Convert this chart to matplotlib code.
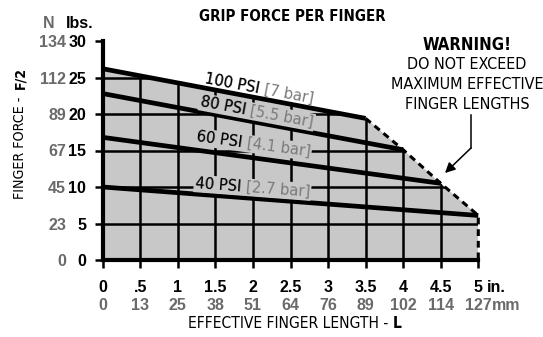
import os
import numpy as np
import matplotlib
matplotlib.use("Agg")
import matplotlib.pyplot as plt
from matplotlib import font_manager as fm
from matplotlib.patches import Polygon, FancyArrowPatch
from matplotlib.lines import Line2D

# ---- data -------------------------------------------------------------
inch_ticks = [0, 0.5, 1, 1.5, 2, 2.5, 3, 3.5, 4, 4.5, 5]
inch_labels = ["0", ".5", "1", "1.5", "2", "2.5", "3", "3.5", "4", "4.5", "5"]
mm_labels = ["0", "13", "25", "38", "51", "64", "76", "89", "102", "114", "127"]

lbs_ticks = [0, 5, 10, 15, 20, 25, 30]
newton_labels = ["0", "23", "45", "67", "89", "112", "134"]

psi_names = ["100 PSI", "80 PSI", "60 PSI", "40 PSI"]
bar_names = ["[7 bar]", "[5.5 bar]", "[4.1 bar]", "[2.7 bar]"]
max_length = [3.5, 4.0, 4.5, 5.0]        # in.
force_at_zero = [26.2, 22.8, 16.8, 10.0]  # lbs at L = 0
force_at_max = [19.4, 15.1, 10.5, 6.1]    # lbs at maximum length

# ---- fonts ------------------------------------------------------------
def _is_bold(f):
    w = f.weight
    if isinstance(w, str):
        return w.lower() in ("bold", "heavy", "black", "demibold", "semibold")
    return int(w) >= 600


def find_font(keys, bold):
    fonts = [f for f in fm.fontManager.ttflist
             if f.style == "normal" and _is_bold(f) == bold]
    for key in keys:
        key = key.lower().replace(" ", "")
        for f in fonts:
            base = os.path.basename(f.fname).lower()
            if key in base or key == f.name.lower().replace(" ", ""):
                return f.fname
    return None


narrow_reg = find_font(["liberationsansnarrow", "dejavusanscondensed",
                        "robotocondensed", "opensanscondensed"], False)
narrow_bold = find_font(["liberationsansnarrow", "dejavusanscondensed",
                         "robotocondensed", "opensanscondensed"], True)
sans_bold = find_font(["liberationsans-bold", "liberationsans", "arimo"], True)


def font(kind, size):
    path = {"nr": narrow_reg, "nb": narrow_bold, "b": sans_bold}[kind]
    if path:
        return fm.FontProperties(fname=path, size=size)
    weight = "bold" if kind in ("nb", "b") else "normal"
    return fm.FontProperties(family=["Liberation Sans", "DejaVu Sans"],
                             weight=weight, stretch="condensed", size=size)


FILL = "#c8c8c8"
GREY_TXT = "#6a6a6a"
BAR_TXT = "#7a7a7a"

W, H = 543, 337
fig = plt.figure(figsize=(W / 100, H / 100), dpi=100)


def P(x, y):
    """figure pixel (from top-left) -> figure fraction"""
    return x / W, 1 - y / H


x_left, x_right = 102.7, 478.3
y_bottom, y_top = 260.0, 41.0
ax = fig.add_axes([x_left / W, 1 - y_bottom / H,
                   (x_right - x_left) / W, (y_bottom - y_top) / H])
ax.set_xlim(0, 5)
ax.set_ylim(0, 30)

for side in ("top", "right"):
    ax.spines[side].set_visible(False)
for side in ("left", "bottom"):
    ax.spines[side].set_linewidth(3.0)
    ax.spines[side].set_capstyle("projecting")
    ax.spines[side].set_zorder(6)

ax.set_xticks(inch_ticks)
ax.set_yticks(lbs_ticks)
ax.tick_params(direction="out", length=5.5, width=1.8, color="black",
               labelbottom=False, labelleft=False)

# ---- grey operating envelope -----------------------------------------
env_x = [0, 0] + max_length + [max_length[-1]]
env_y = [0, force_at_zero[0]] + force_at_max + [0]
poly = Polygon(np.column_stack([env_x, env_y]), closed=True,
               facecolor=FILL, edgecolor="none", zorder=1)
ax.add_patch(poly)

# grid clipped to the envelope
for xv in inch_ticks[1:-1]:
    ln, = ax.plot([xv, xv], [0, 30], color="black", lw=1.8, zorder=2,
                  solid_capstyle="butt")
    ln.set_clip_path(poly)
for yv in lbs_ticks[1:-1]:
    ln, = ax.plot([0, 5], [yv, yv], color="black", lw=1.8, zorder=2,
                  solid_capstyle="butt")
    ln.set_clip_path(poly)

# pressure lines
for x1, y0, y1 in zip(max_length, force_at_zero, force_at_max):
    ax.plot([0, x1], [y0, y1], color="black", lw=3.4, zorder=4,
            solid_capstyle="butt", clip_on=False)

# dashed limit of finger length
ax.plot(max_length + [max_length[-1]], force_at_max + [0], color="black",
        lw=2.2, ls=(0, (2.2, 1.6)), zorder=4, clip_on=False)

# ---- line labels ------------------------------------------------------
fig.canvas.draw()
label_start = [(1.36, 24.85), (1.30, 21.7), (1.25, 16.9), (1.23, 10.5)]
for i, (name, bar) in enumerate(zip(psi_names, bar_names)):
    p0 = ax.transData.transform((0, force_at_zero[i]))
    p1 = ax.transData.transform((max_length[i], force_at_max[i]))
    ang = np.degrees(np.arctan2(p1[1] - p0[1], p1[0] - p0[0]))
    lx, ly = label_start[i]
    fp = font("nr", 11.8)
    box = None if i == 0 else dict(facecolor=FILL, edgecolor="none", pad=1.0)
    ax.text(lx, ly, name + " " + bar, fontproperties=fp, color=BAR_TXT,
            rotation=ang, rotation_mode="anchor", ha="left", va="center",
            bbox=box, zorder=5)
    ax.text(lx, ly, name, fontproperties=fp, color="black",
            rotation=ang, rotation_mode="anchor", ha="left", va="center",
            zorder=5.5)

# ---- tick labels ------------------------------------------------------
xt = ax.get_xaxis_transform()
yt = ax.get_yaxis_transform()
inch_base = -(292 - y_bottom) / (y_bottom - y_top)
mm_base = -(310 - y_bottom) / (y_bottom - y_top)
renderer = fig.canvas.get_renderer()
last_in = last_mm = None
for xv, il, ml in zip(inch_ticks, inch_labels, mm_labels):
    last_in = ax.text(xv, inch_base, il, transform=xt, ha="center",
                      va="baseline", fontproperties=font("b", 11.5),
                      color="black")
    last_mm = ax.text(xv, mm_base, ml, transform=xt, ha="center",
                      va="baseline", fontproperties=font("b", 11.5),
                      color=GREY_TXT)
# unit suffixes follow the last tick labels
ex_in = last_in.get_window_extent(renderer)
ex_mm = last_mm.get_window_extent(renderer)
fig.text((ex_in.x1 + 4) / W, P(0, 292)[1], "in.", ha="left", va="baseline",
         fontproperties=font("b", 11.5), color="black")
fig.text((ex_mm.x1 + 0.5) / W, P(0, 310)[1], "mm", ha="left", va="baseline",
         fontproperties=font("b", 11.5), color=GREY_TXT)

lbs_right = (86 - x_left) / (x_right - x_left)
n_right = (66 - x_left) / (x_right - x_left)
for yv, nl in zip(lbs_ticks, newton_labels):
    ax.text(lbs_right, yv, str(yv), transform=yt, ha="right",
            va="center_baseline", fontproperties=font("b", 11.5), color="black")
    ax.text(n_right, yv, nl, transform=yt, ha="right",
            va="center_baseline", fontproperties=font("b", 11.5), color=GREY_TXT)

fig.text(*P(49, 22), "N", ha="center", va="center_baseline",
         fontproperties=font("b", 11.5), color=GREY_TXT)
fig.text(*P(80, 22), "lbs.", ha="center", va="center_baseline",
         fontproperties=font("b", 11.5), color="black")

# ---- titles -----------------------------------------------------------
fig.text(*P(292, 15), "GRIP FORCE PER FINGER", ha="center",
         va="center_baseline", fontproperties=font("nb", 10.8), color="black")

fig.text(*P(388, 328), "EFFECTIVE FINGER LENGTH -", ha="right",
         va="baseline", fontproperties=font("nr", 11.2), color="black")
fig.text(*P(393, 328), "L", ha="left", va="baseline",
         fontproperties=font("nb", 11.2), color="black")

fig.text(*P(20, 97), "FINGER FORCE -", ha="right", va="center",
         rotation=90, rotation_mode="anchor",
         fontproperties=font("nr", 10.2), color="black")
fig.text(*P(20, 89), "F/2", ha="left", va="center",
         rotation=90, rotation_mode="anchor",
         fontproperties=font("nb", 10.2), color="black")

# ---- warning note -----------------------------------------------------
fig.text(*P(467, 43), "WARNING!", ha="center", va="center_baseline",
         fontproperties=font("nb", 12), color="black")
for yy, line in zip([63, 83, 103],
                    ["DO NOT EXCEED", "MAXIMUM EFFECTIVE", "FINGER LENGTHS"]):
    fig.text(*P(467, yy), line, ha="center", va="center_baseline",
             fontproperties=font("nr", 11.5), color="black")

fig.add_artist(Line2D([P(471, 115)[0], P(471, 148)[0]],
                      [P(471, 115)[1], P(471, 148)[1]],
                      transform=fig.transFigure, color="black", lw=1.1))
fig.add_artist(FancyArrowPatch(P(471, 148), P(445, 173),
                               transform=fig.transFigure,
                               arrowstyle="-|>,head_length=6,head_width=3",
                               color="black", lw=1.1, shrinkA=0, shrinkB=0))

fig.savefig("out.png", dpi=100, facecolor="white")
